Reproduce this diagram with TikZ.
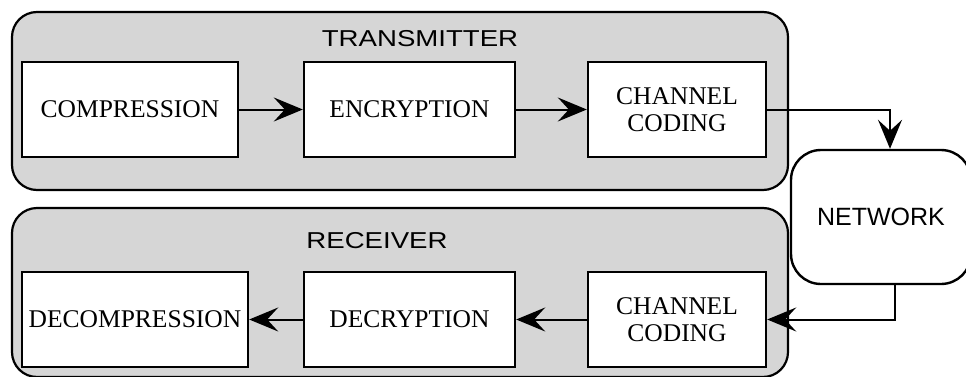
\documentclass[tikz,border=0pt]{standalone}
\usepackage{fontspec}
\setmainfont{Liberation Serif}
\setsansfont{Liberation Sans}
\newfontfamily\widesans{Liberation Sans}[FakeStretch=1.2]
\usepackage{tikz}
\usetikzlibrary{arrows.meta}
\tikzset{
    block/.style={draw,fill=white,line width=2.4pt,minimum height=95pt,inner sep=0pt,align=center,font=\fontsize{25.5}{27}\selectfont},
    group/.style={draw,fill=black!16,line width=2.2pt,rounded corners=25pt},
    grouplabel/.style={font=\widesans\fontsize{23}{25}\selectfont},
    flow/.style={line width=2pt,-{Stealth[length=29pt,width=24pt,inset=11pt]}}
}

\begin{document}
\begin{tikzpicture}[x=1pt,y=1pt]
                            \useasboundingbox (0,0) rectangle (966,376);
                            \draw[group] (12,364) rectangle (788,186);
                            \draw[group] (12,168) rectangle (788,-1);
                            \node[grouplabel] (txlabel) at (420,337) {TRANSMITTER};
                            \node[grouplabel] (rxlabel) at (377,135) {RECEIVER};
                            \node[block,minimum width=216pt] (comp) at (130,266.5) {COMPRESSION};
                            \node[block,minimum width=211pt] (enc) at (409.5,266.5) {ENCRYPTION};
                            \node[block,minimum width=178pt] (txcode) at (677,266.5) {CHANNEL\\CODING};
                            \node[block,minimum width=226pt] (decomp) at (135,56.5) {DECOMPRESSION};
                            \node[block,minimum width=211pt] (dec) at (409.5,56.5) {DECRYPTION};
                            \node[block,minimum width=178pt] (rxcode) at (677,56.5) {CHANNEL\\CODING};
                            \node[draw,line width=2.4pt,rounded corners=30pt,minimum width=180pt,minimum height=134pt,font=\sffamily\fontsize{25}{27}\selectfont] (net) at (881,159) {NETWORK};
                            \draw[flow] (comp) -- (enc);
                            \draw[flow] (enc) -- (txcode);
                            \draw[flow] (txcode.east) -| ([xshift=9pt]net.north);
                            \draw[flow] ([xshift=14pt]net.south) |- (rxcode.east);
                            \draw[flow] (rxcode) -- (dec);
                            \draw[flow] (dec) -- (decomp);
                        \end{tikzpicture}
\end{document}
